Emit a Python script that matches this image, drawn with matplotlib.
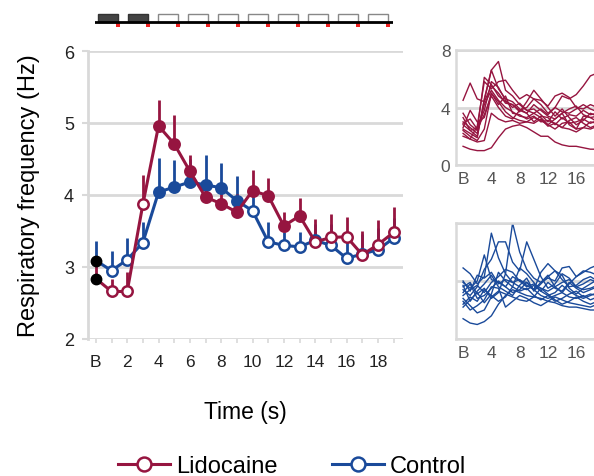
import numpy as np
import matplotlib.pyplot as plt
from matplotlib.lines import Line2D
from matplotlib.patches import Rectangle

plt.rcParams['font.family'] = ['Liberation Sans', 'DejaVu Sans']

# time points: B then 1..19 s
time = np.arange(20)
xtick_pos = [0, 2, 4, 6, 8, 10, 12, 14, 16, 18]
xtick_lab = ['B', '2', '4', '6', '8', '10', '12', '14', '16', '18']

# group means and upper SEM
lido_mean = [2.84, 2.66, 2.66, 3.87, 4.96, 4.71, 4.33, 3.97, 3.88, 3.76,
             4.06, 3.99, 3.57, 3.71, 3.35, 3.41, 3.42, 3.17, 3.31, 3.48]
lido_err = [0.20, 0.18, 0.27, 0.41, 0.36, 0.40, 0.23, 0.20, 0.20, 0.25,
            0.29, 0.25, 0.20, 0.25, 0.32, 0.32, 0.27, 0.33, 0.34, 0.36]
lido_sig = [0, 0, 0, 0, 1, 1, 1, 1, 1, 1, 1, 1, 1, 1, 0, 0, 0, 0, 0, 0]

ctrl_mean = [3.09, 2.95, 3.10, 3.34, 4.04, 4.11, 4.18, 4.14, 4.10, 3.92,
             3.78, 3.35, 3.30, 3.28, 3.37, 3.30, 3.12, 3.18, 3.24, 3.40]
ctrl_err = [0.27, 0.27, 0.30, 0.29, 0.47, 0.37, 0.32, 0.41, 0.35, 0.34,
            0.25, 0.27, 0.19, 0.21, 0.23, 0.30, 0.35, 0.28, 0.30, 0.28]
ctrl_sig = [0, 0, 0, 0, 1, 1, 1, 1, 1, 1, 0, 0, 0, 0, 0, 0, 0, 0, 0, 0]

# individual animals
lido_traces = [
    [4.5, 5.7, 4.6, 4.4, 5.5, 5.0, 4.3, 4.2, 3.8, 4.0, 4.6, 4.2, 3.6, 4.0, 4.8, 4.6, 4.9, 5.5, 6.2, 6.4],
    [1.3, 1.1, 1.0, 1.0, 1.2, 1.9, 2.5, 2.7, 2.8, 2.6, 2.3, 2.0, 2.0, 1.6, 1.4, 1.3, 1.3, 1.2, 1.1, 1.1],
    [2.0, 1.8, 1.6, 1.7, 3.6, 3.2, 3.0, 3.1, 2.9, 3.0, 3.3, 3.1, 2.8, 2.5, 2.9, 3.0, 2.5, 2.6, 3.0, 2.9],
    [2.5, 2.2, 1.9, 4.6, 6.6, 5.3, 4.6, 4.4, 3.9, 3.6, 4.2, 3.8, 3.4, 3.2, 3.6, 3.9, 4.1, 3.5, 3.3, 3.4],
    [2.8, 2.4, 2.0, 4.5, 6.6, 7.2, 5.2, 4.8, 4.2, 3.8, 3.9, 3.5, 3.0, 3.7, 3.2, 3.5, 3.4, 3.8, 3.5, 3.6],
    [3.6, 2.8, 2.4, 6.1, 5.6, 4.8, 4.4, 4.2, 3.7, 4.4, 5.2, 4.6, 4.0, 3.4, 3.9, 3.3, 2.8, 3.1, 3.6, 3.4],
    [2.2, 1.8, 2.7, 5.8, 5.3, 5.8, 5.9, 5.2, 4.6, 4.9, 4.6, 4.5, 4.1, 4.8, 5.0, 4.7, 4.0, 3.9, 4.2, 4.0],
    [3.0, 2.6, 2.2, 4.2, 5.2, 4.5, 4.0, 3.7, 3.4, 3.3, 3.6, 3.3, 2.8, 3.2, 3.6, 2.8, 2.5, 3.4, 3.3, 3.0],
    [2.6, 3.8, 3.0, 3.3, 5.0, 4.2, 4.8, 3.6, 3.5, 3.2, 3.4, 3.0, 3.1, 2.9, 2.6, 3.1, 3.3, 2.9, 2.6, 2.8],
    [3.3, 2.4, 2.6, 3.8, 5.8, 5.4, 4.5, 4.0, 4.3, 3.8, 3.6, 3.9, 3.5, 4.0, 3.7, 3.6, 3.9, 4.2, 3.9, 3.7],
    [2.4, 2.0, 1.7, 2.5, 5.0, 4.4, 3.7, 3.3, 3.1, 3.0, 2.9, 3.2, 2.7, 2.9, 2.6, 2.5, 2.3, 2.6, 2.5, 2.7],
    [2.9, 3.2, 2.5, 3.5, 4.8, 4.0, 3.4, 3.2, 3.8, 3.6, 3.0, 3.4, 3.3, 2.8, 3.3, 2.9, 3.0, 3.2, 2.9, 3.1],
]
ctrl_traces = [
    [3.6, 3.9, 3.1, 3.5, 2.8, 3.2, 4.5, 8.0, 6.0, 4.8, 4.2, 3.9, 4.4, 3.6, 3.2, 3.8, 4.3, 4.7, 4.6, 4.4],
    [4.9, 4.5, 3.8, 4.3, 7.3, 5.6, 4.5, 3.9, 4.1, 3.7, 3.4, 3.9, 4.2, 4.0, 4.9, 5.0, 4.3, 4.6, 4.9, 5.1],
    [3.4, 3.0, 3.6, 4.8, 5.5, 6.7, 6.7, 5.3, 4.7, 6.7, 5.5, 4.3, 3.5, 3.8, 4.5, 4.2, 3.6, 3.8, 4.1, 3.9],
    [1.4, 1.1, 1.0, 1.2, 1.6, 2.4, 3.0, 3.4, 3.2, 3.0, 2.9, 2.8, 2.6, 2.5, 2.3, 2.2, 2.2, 2.1, 2.0, 2.0],
    [2.6, 2.0, 2.3, 2.7, 3.6, 3.5, 2.2, 2.6, 3.0, 2.8, 2.5, 2.3, 2.6, 2.9, 2.7, 2.5, 2.4, 2.3, 2.2, 2.4],
    [4.0, 3.3, 4.4, 4.2, 4.6, 3.8, 4.1, 3.9, 3.6, 3.4, 3.7, 3.3, 3.9, 3.5, 3.3, 3.9, 3.5, 3.2, 3.4, 3.6],
    [3.2, 3.8, 2.8, 3.0, 3.5, 4.0, 3.6, 3.2, 3.4, 3.9, 3.4, 3.0, 2.8, 3.0, 3.2, 2.9, 2.8, 3.0, 2.7, 2.9],
    [2.2, 2.7, 3.2, 2.5, 3.1, 4.6, 4.0, 3.6, 3.3, 3.5, 3.0, 2.7, 3.0, 2.6, 2.8, 3.1, 3.3, 2.9, 3.1, 3.0],
    [3.9, 3.5, 4.0, 5.8, 4.1, 3.9, 3.6, 4.3, 4.0, 3.9, 3.4, 4.6, 5.2, 4.7, 4.1, 3.6, 3.7, 4.1, 4.3, 4.0],
    [2.8, 2.3, 1.8, 2.0, 2.9, 3.3, 3.1, 2.9, 2.7, 2.6, 2.9, 3.5, 3.1, 2.7, 2.4, 2.6, 2.9, 2.6, 2.4, 2.6],
    [3.0, 3.4, 3.7, 3.2, 3.9, 4.3, 4.8, 4.6, 4.0, 3.6, 3.8, 3.5, 3.3, 3.6, 3.9, 4.1, 3.6, 3.4, 3.5, 3.7],
    [2.4, 2.9, 2.6, 3.4, 3.0, 2.6, 2.9, 3.6, 4.9, 4.5, 3.9, 3.3, 3.0, 3.2, 3.7, 3.3, 3.0, 2.8, 3.0, 3.2],
    [3.7, 2.6, 3.3, 3.8, 4.4, 3.6, 3.3, 3.0, 3.7, 4.2, 3.3, 3.8, 4.3, 4.7, 4.4, 3.5, 3.1, 3.5, 3.8, 4.1],
]

# stimulus schematic: 10 pulses, first 2 shaded
n_pulses = 10
shaded = [1, 1, 0, 0, 0, 0, 0, 0, 0, 0]

RED = '#961540'
BLUE = '#1a4a9a'
GRID = '#d9d9d9'

W, H = 594, 477
fig = plt.figure(figsize=(W / 100, H / 100), dpi=100)


def px_axes(x0, y0, x1, y1):
    # axes from pixel box (top-left origin)
    return fig.add_axes([x0 / W, 1 - y1 / H, (x1 - x0) / W, (y1 - y0) / H])


# ---- main panel
ax = px_axes(88, 52, 403, 340)
ax.set_xlim(-0.5, 19.6)
ax.set_ylim(2, 6)
ax.set_yticks([2, 3, 4, 5, 6])
ax.set_xticks(xtick_pos)
ax.set_xticklabels(xtick_lab)
ax.set_xticks(time, minor=True)
ax.yaxis.grid(True, color=GRID, lw=2)
ax.set_axisbelow(True)
for s in ['top', 'right', 'bottom']:
    ax.spines[s].set_visible(False)
ax.spines['left'].set_color(GRID)
ax.spines['left'].set_linewidth(2)
ax.tick_params(axis='y', colors=GRID, length=4, width=1.5, labelcolor='#222222', labelsize=13, pad=6)
ax.tick_params(axis='x', which='both', colors=GRID, length=3, width=1.2, labelcolor='#222222', labelsize=12.5, pad=8)
ax.set_ylabel('Respiratory frequency (Hz)', fontsize=17, labelpad=17)
ax.set_xlabel('Time (s)', fontsize=16.5, labelpad=22)

lido_mean = np.array(lido_mean)
ctrl_mean = np.array(ctrl_mean)
ax.vlines(time, ctrl_mean, ctrl_mean + np.array(ctrl_err), color=BLUE, lw=2, zorder=2)
ax.vlines(time, lido_mean, lido_mean + np.array(lido_err), color=RED, lw=2, zorder=2.5)

for mean, sig, col, z in [(ctrl_mean, ctrl_sig, BLUE, 3), (lido_mean, lido_sig, RED, 4)]:
    sig = np.array(sig, bool)
    ax.plot(time, mean, color=col, lw=2.2, zorder=z)
    ax.plot(time[1:][~sig[1:]], mean[1:][~sig[1:]], 'o', ms=7.5, mfc='white', mec=col, mew=1.8, zorder=z + 0.1)
    ax.plot(time[sig], mean[sig], 'o', ms=7.5, mfc=col, mec=col, mew=1.8, zorder=z + 0.1)
ax.plot([0, 0], [lido_mean[0], ctrl_mean[0]], 'o', ms=7.5, color='black', zorder=6)

handles = [Line2D([], [], color=RED, lw=2.2, marker='o', ms=10, mfc='white', mec=RED, mew=1.8),
           Line2D([], [], color=BLUE, lw=2.2, marker='o', ms=10, mfc='white', mec=BLUE, mew=1.8)]
fig.legend(handles, ['Lidocaine', 'Control'], loc='center', bbox_to_anchor=(292 / W, 1 - 467 / H),
           ncol=2, frameon=False, fontsize=17, handlelength=2.2, handletextpad=0.25, columnspacing=2.3,
           borderpad=0, borderaxespad=0)

# ---- stimulus bar
sx = px_axes(95, 10, 393, 32)
sx.set_xlim(0, 9.93)
sx.set_ylim(0, 22)
sx.axis('off')
for i in range(n_pulses):
    fc = '#444444' if shaded[i] else 'white'
    ec = '#333333' if shaded[i] else '#888888'
    sx.add_patch(Rectangle((i + 0.11, 9.3), 0.67, 7.7, fc=fc, ec=ec, lw=1))
    sx.add_patch(Rectangle((i + 0.70, 4.0), 0.13, 5.3, fc='#ee2222', ec='none'))
sx.plot([0, 9.93], [9.3, 9.3], color='black', lw=2)

# ---- individual panels
for (y0, y1), traces, col, show_y in [((51, 166), lido_traces, RED, True),
                                       ((224, 340), ctrl_traces, BLUE, False)]:
    a = px_axes(456, y0, 601, y1)
    for tr in traces:
        a.plot(time, tr, color=col, lw=1)
    a.set_xlim(-1, 19.5)
    a.set_ylim(0, 8)
    a.set_yticks([0, 4, 8])
    a.set_xticks([0, 4, 8, 12, 16])
    a.set_xticklabels(['B', '4', '8', '12', '16'])
    a.yaxis.grid(True, color=GRID, lw=2)
    a.set_axisbelow(True)
    for s in ['left', 'top', 'bottom', 'right']:
        a.spines[s].set_color(GRID)
        a.spines[s].set_linewidth(1.8)
    a.tick_params(length=0, labelcolor='#555555', labelsize=12.5, pad=4)
    if not show_y:
        a.set_yticklabels([])

fig.savefig('out.png', dpi=100)
